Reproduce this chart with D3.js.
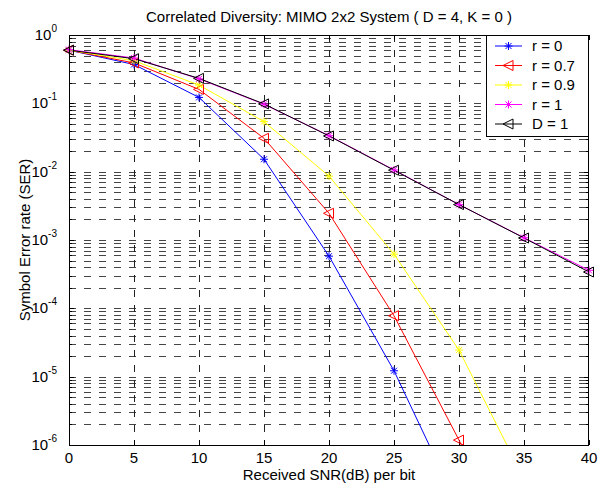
<!DOCTYPE html>
<html><head><meta charset="utf-8">
<script src="https://cdn.jsdelivr.net/npm/d3@7"></script>
<style>
html,body{margin:0;padding:0;background:#fff;}
text{font-family:"Liberation Sans",Arial,sans-serif;fill:#000;}
</style></head>
<body>
<svg id="chart" width="613" height="488"></svg>
<script>
const snr = [0, 5, 10, 15, 20, 25, 30, 35, 40];
const serR0  = [0.6, 0.37, 0.122, 0.0152, 5.8e-4, 1.22e-5, 1.2e-7, 1.3e-9, 1.3e-11];
const serR07 = [0.6, 0.39, 0.16, 0.0308, 2.46e-3, 7.8e-5, 1.18e-6, 1.3e-8, 1.4e-10];
const serR09 = [0.6, 0.42, 0.185, 0.054, 8.6e-3, 6.2e-4, 2.45e-5, 3.2e-7, 4e-9];
const serR1  = [0.61, 0.46, 0.228, 0.097, 0.0336, 0.0106, 0.0033, 0.00108, 0.00036];
const serD1  = [0.6, 0.45, 0.232, 0.098, 0.0333, 0.0105, 0.0033, 0.00107, 0.00034];
const seriesNames = ["r = 0", "r = 0.7", "r = 0.9", "r = 1", "D = 1"];
const xTicks = [0, 5, 10, 15, 20, 25, 30, 35, 40];
const yExponents = [0, -1, -2, -3, -4, -5, -6];
const titleText = "Correlated Diversity: MIMO 2x2 System ( D = 4, K = 0 )";
const xLabel = "Received SNR(dB) per bit";
const yLabel = "Symbol Error rate (SER)";

const series = [
  {name: seriesNames[0], vals: serR0,  color: "#0000ff", marker: "star"},
  {name: seriesNames[1], vals: serR07, color: "#ff0000", marker: "tri"},
  {name: seriesNames[2], vals: serR09, color: "#ffff00", marker: "star"},
  {name: seriesNames[3], vals: serR1,  color: "#ff00ff", marker: "star"},
  {name: seriesNames[4], vals: serD1,  color: "#000000", marker: "tri"}
];

const L = 69, R = 589, T = 35, B = 445;
const FS = 15;
const x = d3.scaleLinear().domain([0, 40]).range([L, R]);
const y = d3.scaleLog().domain([1e-6, 1]).range([B, T]);
const svg = d3.select("#chart");

svg.append("defs").append("clipPath").attr("id", "clip")
  .append("rect").attr("x", L).attr("y", T).attr("width", R - L).attr("height", B - T);

const minorVals = [];
for (let e = -6; e < 0; e++) for (let m = 1; m <= 9; m++) minorVals.push(m * Math.pow(10, e));
const grid = svg.append("g");
grid.selectAll("line.h").data(minorVals.filter(v => v > 1e-6)).enter().append("line")
  .attr("x1", L).attr("x2", R)
  .attr("y1", d => Math.round(y(d)) + 0.5).attr("y2", d => Math.round(y(d)) + 0.5)
  .attr("stroke", "#444").attr("stroke-width", 1).attr("stroke-dasharray", "7,8");
grid.selectAll("line.v").data(xTicks.filter(v => v > 0 && v < 40)).enter().append("line")
  .attr("x1", d => Math.round(x(d)) + 0.5).attr("x2", d => Math.round(x(d)) + 0.5)
  .attr("y1", T).attr("y2", B)
  .attr("stroke", "#222").attr("stroke-width", 1).attr("stroke-dasharray", "7,8");

const tk = svg.append("g").attr("stroke", "#000").attr("stroke-width", 1);
xTicks.forEach(v => {
  const px = Math.round(x(v)) + 0.5;
  tk.append("line").attr("x1", px).attr("x2", px).attr("y1", B).attr("y2", B - 5);
  tk.append("line").attr("x1", px).attr("x2", px).attr("y1", T).attr("y2", T + 5);
});
minorVals.concat([1]).forEach(v => {
  const py = Math.round(y(v)) + 0.5;
  const isMajor = Math.abs(Math.log10(v) - Math.round(Math.log10(v))) < 1e-9;
  const len = isMajor ? 5 : 3;
  tk.append("line").attr("x1", L).attr("x2", L + len).attr("y1", py).attr("y2", py);
  tk.append("line").attr("x1", R).attr("x2", R - len).attr("y1", py).attr("y2", py);
});

const line = d3.line().x((d, i) => x(snr[i])).y(d => y(d));
const plot = svg.append("g");
series.forEach(s => {
  plot.append("path").datum(s.vals).attr("clip-path", "url(#clip)")
    .attr("d", line).attr("fill", "none").attr("stroke", s.color).attr("stroke-width", 1);
});

function drawMarker(g, type, cx, cy, color) {
  if (type === "star") {
    const r = 4;
    const p = `M${cx - r},${cy}L${cx + r},${cy}M${cx},${cy - r}L${cx},${cy + r}` +
      `M${cx - r * 0.75},${cy - r * 0.75}L${cx + r * 0.75},${cy + r * 0.75}` +
      `M${cx - r * 0.75},${cy + r * 0.75}L${cx + r * 0.75},${cy - r * 0.75}`;
    g.append("path").attr("d", p).attr("stroke", color).attr("stroke-width", 1).attr("fill", "none");
  } else {
    const p = `M${cx - 5.5},${cy}L${cx + 4.5},${cy - 5}L${cx + 4.5},${cy + 5}Z`;
    g.append("path").attr("d", p).attr("stroke", color).attr("stroke-width", 1).attr("fill", "none");
  }
}
series.forEach(s => {
  const g = plot.append("g");
  s.vals.forEach((v, i) => {
    if (v >= 1e-6 && v <= 1) drawMarker(g, s.marker, x(snr[i]), y(v), s.color);
  });
});

svg.append("rect").attr("x", L + 0.5).attr("y", T + 0.5).attr("width", R - L - 1).attr("height", B - T)
  .attr("fill", "none").attr("stroke", "#000").attr("stroke-width", 1);

svg.append("g").selectAll("text").data(xTicks).enter().append("text")
  .attr("x", d => x(d)).attr("y", B + 18).attr("text-anchor", "middle")
  .attr("font-size", FS).text(d => d);

const yl = svg.append("g");
yExponents.forEach(e => {
  const t = yl.append("text").attr("x", 57).attr("y", y(Math.pow(10, e)) + 5).attr("text-anchor", "end").attr("font-size", FS);
  t.append("tspan").text("10");
  t.append("tspan").attr("font-size", 10).attr("dy", -8).text(e);
});

svg.append("text").attr("x", (L + R) / 2).attr("y", 22).attr("text-anchor", "middle").attr("font-size", FS).text(titleText);
svg.append("text").attr("x", (L + R) / 2).attr("y", 480).attr("text-anchor", "middle").attr("font-size", FS).text(xLabel);
svg.append("text").attr("transform", `translate(30,${(T + B) / 2}) rotate(-90)`).attr("text-anchor", "middle").attr("font-size", FS).text(yLabel);

const lg = svg.append("g");
lg.append("rect").attr("x", 486.5).attr("y", 35.5).attr("width", 102).attr("height", 101)
  .attr("fill", "#fff").attr("stroke", "#000").attr("stroke-width", 1);
series.forEach((s, i) => {
  const ly = 46 + i * 19.5;
  lg.append("line").attr("x1", 495).attr("x2", 522).attr("y1", ly).attr("y2", ly).attr("stroke", s.color).attr("stroke-width", 1);
  drawMarker(lg, s.marker, 508.5, ly, s.color);
  lg.append("text").attr("x", 532).attr("y", ly + 5).attr("font-size", FS).text(s.name);
});
</script>
</body></html>
